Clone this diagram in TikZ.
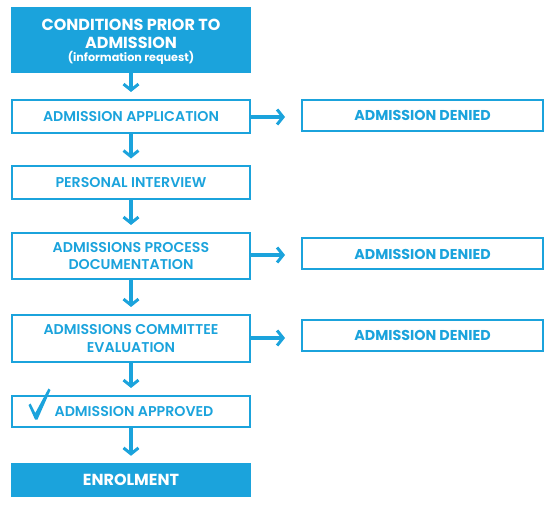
\documentclass[tikz,border=0pt]{standalone}
\usepackage{fontspec}
\setmainfont{Poppins}
\newfontfamily\semib{Poppins SemiBold}
\usetikzlibrary{arrows.meta,calc}
\definecolor{fblue}{RGB}{27,163,220}
\begin{document}
\begin{tikzpicture}[x=1pt,y=-1pt,
  lbox/.style={draw=fblue,line width=2pt,minimum width=238pt,inner sep=0pt,align=center,
     text=fblue,font=\semib\fontsize{14.2}{17.5}\selectfont},
  fbox/.style={fill=fblue,minimum width=240pt,inner sep=0pt,align=center,text=white,
     font=\bfseries\fontsize{16}{17.5}\selectfont},
  dbox/.style={draw=fblue,line width=2pt,minimum width=241pt,minimum height=31pt,inner sep=0pt,
     text=fblue,font=\bfseries\fontsize{14.3}{14}\selectfont},
  arr/.style={draw=fblue,line width=3.5pt,-{Straight Barb[length=6pt,width=15pt,line width=3pt]}}
]
\useasboundingbox (0,0) rectangle (552,505);
\node[fbox,minimum height=66pt] (b1) at (131,40) {};
\node[align=center,text=white,inner sep=0pt,font=\bfseries\fontsize{16}{17.5}\selectfont] (b1t) at ($(b1.center)+(0,2)$) {CONDITIONS PRIOR TO\\ADMISSION\\[-4pt]{\fontsize{11.2}{12}\selectfont (information request)}};
\node[lbox,minimum height=33pt] (b2) at (131,116.5) {ADMISSION APPLICATION};
\node[lbox,minimum height=33pt] (b3) at (131,183) {PERSONAL INTERVIEW};
\node[lbox,minimum height=46pt] (b4) at (131,256) {ADMISSIONS PROCESS\\DOCUMENTATION};
\node[lbox,minimum height=47pt] (b5) at (131,338.5) {ADMISSIONS COMMITTEE\\EVALUATION};
\node[lbox,minimum height=31pt] (b6) at (131,411.5) {\hspace*{6pt}ADMISSION APPROVED};
\node[fbox,minimum height=34pt] (b7) at (131,480) {ENROLMENT};
\node[dbox] (d1) at (422.5,115.5) {ADMISSION DENIED};
\node[dbox] (d2) at (422.5,254) {ADMISSION DENIED};
\node[dbox] (d3) at (422.5,335.5) {ADMISSION DENIED};
\foreach \a/\b in {b1/b2,b2/b3,b3/b4,b4/b5,b5/b6,b6/b7}
  \draw[arr,shorten >=7pt] (\a.south) -- (\b.north);
\draw[arr] (b2.east) ++(0,0.5) coordinate (s1) -- ($(s1 -| d1.west)+(-16,0)$) coordinate (t1);
\draw[arr] (b4.east) ++(0,-1) coordinate (s2) -- ($(s2 -| d2.west)+(-16,0)$) coordinate (t2);
\draw[arr] (b5.east) ++(0,-0.5) coordinate (s3) -- ($(s3 -| d3.west)+(-16,0)$) coordinate (t3);
\coordinate (c1) at (28.5,405);
\coordinate (c2) at (35,419.5);
\coordinate (c3) at (48.5,388.5);
\fill[fblue] (c1) -- (30.5,403.5) -- (35.3,413) -- (c3) -- (50.5,390) -- (37.5,419.5) -- (c2) -- cycle;
\end{tikzpicture}
\end{document}
